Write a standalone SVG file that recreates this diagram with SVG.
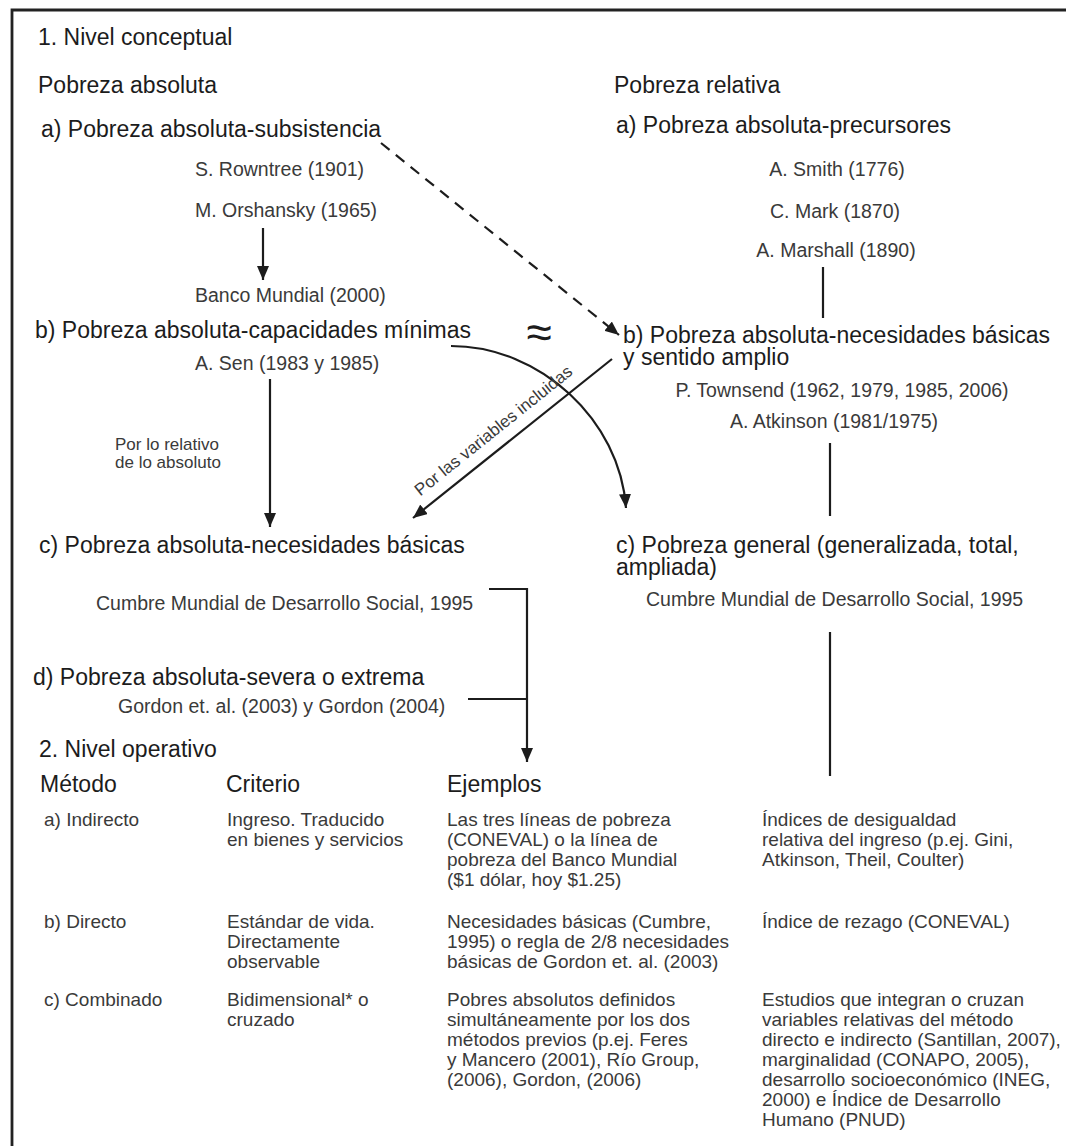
<svg xmlns="http://www.w3.org/2000/svg" width="1066" height="1146" viewBox="0 0 1066 1146">
<defs>
<style>
text { font-family: "Liberation Sans", Arial, Helvetica, sans-serif; }
.h { font-size: 23px; fill: #1c1c1c; }
.c { font-size: 19.5px; fill: #3a3a3a; }
.t { font-size: 19px; fill: #3a3a3a; }
.s { font-size: 17px; fill: #3a3a3a; }
.ln { fill: none; stroke: #1c1c1c; stroke-width: 2.2; }
.dash { stroke-dasharray: 11 8; }
</style>
<marker id="arr" viewBox="0 0 14 12" refX="14" refY="6" markerWidth="14" markerHeight="12" orient="auto" markerUnits="userSpaceOnUse">
<path d="M0,0 L14,6 L0,12 z" fill="#1c1c1c"/>
</marker>
</defs>
<rect width="1066" height="1146" fill="#ffffff"/>
<path d="M12,1146 V10 H1066" fill="none" stroke="#222222" stroke-width="2.8"/>

<g id="connectors">
<path class="ln" d="M263,228 L263,280" marker-end="url(#arr)"/>
<path class="ln dash" d="M381,143 L619,335" marker-end="url(#arr)"/>
<path class="ln" d="M823,267 L823,318"/>
<path class="ln" d="M270,379 L270,527" marker-end="url(#arr)"/>
<path class="ln" d="M451,346 C540,346 620,420 626,508" marker-end="url(#arr)"/>
<path class="ln" d="M612,359 L413,518" marker-end="url(#arr)"/>
<path class="ln" d="M830,443 L830,516"/>
<path class="ln" d="M830,632 L830,776"/>
<path class="ln" d="M489,589 H527 V762" marker-end="url(#arr)"/>
<path class="ln" d="M468,699 H527"/>
</g>

<g id="nivel-conceptual"><text class="h" x="38" y="45">1. Nivel conceptual</text></g>
<g id="pobreza-absoluta"><text class="h" x="38" y="93">Pobreza absoluta</text></g>
<g id="pobreza-relativa"><text class="h" x="614" y="93">Pobreza relativa</text></g>

<g id="abs-subsistencia">
<text class="h" x="41" y="137">a) Pobreza absoluta-subsistencia</text>
<text class="c" x="195" y="176">S. Rowntree (1901)</text>
<text class="c" x="195" y="217">M. Orshansky (1965)</text>
</g>
<g id="banco-mundial"><text class="c" x="195" y="302">Banco Mundial (2000)</text></g>
<g id="abs-capacidades">
<text class="h" x="35" y="338">b) Pobreza absoluta-capacidades mínimas</text>
<text class="c" x="195" y="370">A. Sen (1983 y 1985)</text>
</g>
<g id="aprox"><text class="h" x="539" y="348" text-anchor="middle" style="font-size:46px">≈</text></g>
<g id="label-relativo">
<text class="s" x="115" y="450">Por lo relativo</text>
<text class="s" x="115" y="468">de lo absoluto</text>
</g>
<g id="label-variables"><text class="s" text-anchor="middle" transform="translate(497,435) rotate(-38.7)">Por las variables incluidas</text></g>
<g id="abs-necesidades">
<text class="h" x="39" y="553">c) Pobreza absoluta-necesidades básicas</text>
<text class="c" x="96" y="610">Cumbre Mundial de Desarrollo Social, 1995</text>
</g>
<g id="abs-severa">
<text class="h" x="33" y="685">d) Pobreza absoluta-severa o extrema</text>
<text class="c" x="118" y="713">Gordon et. al. (2003) y Gordon (2004)</text>
</g>

<g id="abs-precursores">
<text class="h" x="616" y="133">a) Pobreza absoluta-precursores</text>
<text class="c" x="837" y="176" text-anchor="middle">A. Smith (1776)</text>
<text class="c" x="835" y="218" text-anchor="middle">C. Mark (1870)</text>
<text class="c" x="836" y="257" text-anchor="middle">A. Marshall (1890)</text>
</g>
<g id="abs-necesidades-amplio">
<text class="h" x="623" y="343">b) Pobreza absoluta-necesidades básicas</text>
<text class="h" x="623" y="365">y sentido amplio</text>
<text class="c" x="842" y="397" text-anchor="middle">P. Townsend (1962, 1979, 1985, 2006)</text>
<text class="c" x="834" y="428" text-anchor="middle">A. Atkinson (1981/1975)</text>
</g>
<g id="pobreza-general">
<text class="h" x="616" y="553">c) Pobreza general (generalizada, total,</text>
<text class="h" x="616" y="575">ampliada)</text>
<text class="c" x="646" y="606">Cumbre Mundial de Desarrollo Social, 1995</text>
</g>

<g id="nivel-operativo"><text class="h" x="39" y="757">2. Nivel operativo</text></g>
<g id="headers">
<text class="h" x="40" y="792">Método</text>
<text class="h" x="226" y="792">Criterio</text>
<text class="h" x="447" y="792">Ejemplos</text>
</g>
<g id="row-indirecto">
<text class="t" x="44" y="826">a) Indirecto</text>
<text class="t" x="227" y="826">Ingreso. Traducido</text>
<text class="t" x="227" y="846">en bienes y servicios</text>
<text class="t" x="447" y="826">Las tres líneas de pobreza</text>
<text class="t" x="447" y="846">(CONEVAL) o la línea de</text>
<text class="t" x="447" y="866">pobreza del Banco Mundial</text>
<text class="t" x="447" y="886">($1 dólar, hoy $1.25)</text>
<text class="t" x="762" y="826">Índices de desigualdad</text>
<text class="t" x="762" y="846">relativa del ingreso (p.ej. Gini,</text>
<text class="t" x="762" y="866">Atkinson, Theil, Coulter)</text>
</g>
<g id="row-directo">
<text class="t" x="44" y="928">b) Directo</text>
<text class="t" x="227" y="928">Estándar de vida.</text>
<text class="t" x="227" y="948">Directamente</text>
<text class="t" x="227" y="968">observable</text>
<text class="t" x="447" y="928">Necesidades básicas (Cumbre,</text>
<text class="t" x="447" y="948">1995) o regla de 2/8 necesidades</text>
<text class="t" x="447" y="968">básicas de Gordon et. al. (2003)</text>
<text class="t" x="762" y="928">Índice de rezago (CONEVAL)</text>
</g>
<g id="row-combinado">
<text class="t" x="44" y="1006">c) Combinado</text>
<text class="t" x="227" y="1006">Bidimensional* o</text>
<text class="t" x="227" y="1026">cruzado</text>
<text class="t" x="447" y="1006">Pobres absolutos definidos</text>
<text class="t" x="447" y="1026">simultáneamente por los dos</text>
<text class="t" x="447" y="1046">métodos previos (p.ej. Feres</text>
<text class="t" x="447" y="1066">y Mancero (2001), Río Group,</text>
<text class="t" x="447" y="1086">(2006), Gordon, (2006)</text>
<text class="t" x="762" y="1006">Estudios que integran o cruzan</text>
<text class="t" x="762" y="1026">variables relativas del método</text>
<text class="t" x="762" y="1046">directo e indirecto (Santillan, 2007),</text>
<text class="t" x="762" y="1066">marginalidad (CONAPO, 2005),</text>
<text class="t" x="762" y="1086">desarrollo socioeconómico (INEG,</text>
<text class="t" x="762" y="1106">2000) e Índice de Desarrollo</text>
<text class="t" x="762" y="1126">Humano (PNUD)</text>
</g>
</svg>
